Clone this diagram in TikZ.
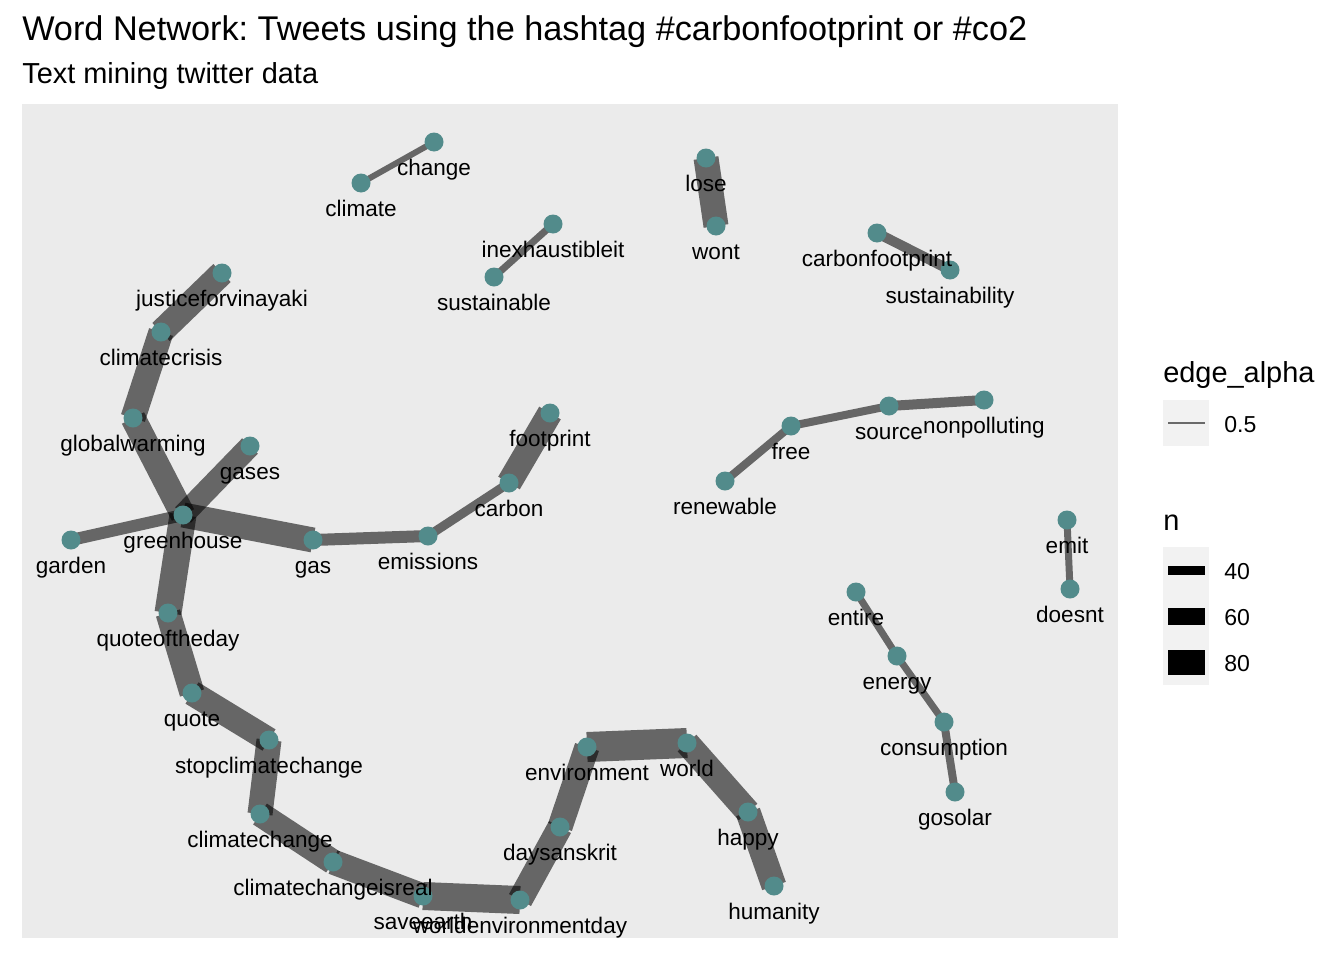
\documentclass[tikz,border=0pt]{standalone}
\usepackage{fontspec}
\setmainfont{Liberation Sans}
\frenchspacing
\pgfdeclarelayer{back}
\pgfdeclarelayer{edges}
\pgfdeclarelayer{front}
\pgfsetlayers{back,edges,main,front}
\definecolor{panel}{HTML}{EBEBEB}
\definecolor{dot}{RGB}{82,139,139}
\definecolor{keybg}{HTML}{F2F2F2}
\definecolor{keyline}{HTML}{6A6A6A}
\begin{document}
\begin{tikzpicture}[x=0.75pt,y=-0.75pt,
  pt/.style={circle,fill=dot,inner sep=0pt,minimum size=14.25pt},
  lbl/.style={font=\fontsize{16.9}{20}\selectfont,inner sep=0pt,anchor=base},
  lnk/.style={draw=black,draw opacity=0.566,line cap=butt,line width=#1*0.75pt},
  ttl/.style={font=\fontsize{25.7}{30}\selectfont,inner sep=0pt,anchor=base west},
  sub/.style={font=\fontsize{21.7}{26}\selectfont,inner sep=0pt,anchor=base west},
  legt/.style={font=\fontsize{17.3}{20}\selectfont,inner sep=0pt,anchor=base west}]
\useasboundingbox (0,0) rectangle (1344,960);
\begin{pgfonlayer}{back}
  \fill[white] (0,0) rectangle (1344,960);
  \fill[panel] (22,104) rectangle (1118,938);
\end{pgfonlayer}

% nodes (points)
\foreach \n/\x/\y in {
  change/434/142, climate/361/183,
  inexhaustibleit/553/224, sustainable/494/277,
  lose/706/158, wont/716/226,
  carbonfootprint/877/233, sustainability/950/270,
  justiceforvinayaki/222/273, climatecrisis/161/332, globalwarming/133/418,
  gases/250/446, greenhouse/183/515, garden/71/540, gas/313/540,
  emissions/428/536, carbon/509/483, footprint/550/413,
  quoteoftheday/168/613, quote/192/693, stopclimatechange/269/740,
  climatechange/260/814, climatechangeisreal/333/862, saveearth/423/896,
  worldenvironmentday/520/900, daysanskrit/560/827, environment/587/747,
  world/687/743, happy/748/812, humanity/774/886,
  free/791/426, source/889/406, nonpolluting/984/400, renewable/725/481,
  emit/1067/520, doesnt/1070/589,
  entire/856/592, energy/897/656, consumption/944/722, gosolar/955/792}
{
  \node[pt] (\n) at (\x,\y) {};
}

% labels
\begin{pgfonlayer}{front}
\foreach \n in {change, climate, inexhaustibleit, sustainable, lose, wont,
  carbonfootprint, sustainability, justiceforvinayaki, climatecrisis,
  globalwarming, gases, greenhouse, garden, gas, emissions, carbon, footprint,
  quoteoftheday, quote, stopclimatechange, climatechange, climatechangeisreal,
  saveearth, worldenvironmentday, daysanskrit, environment, world, happy,
  humanity, free, source, nonpolluting, renewable, emit, doesnt, entire,
  energy, consumption, gosolar}
{
  \path (\n.center) ++(0,33) node[lbl] (t-\n) {\n};
}
\end{pgfonlayer}

% edges
\begin{pgfonlayer}{edges}
\foreach \a/\b/\w in {
  change/climate/6, inexhaustibleit/sustainable/7, lose/wont/25,
  carbonfootprint/sustainability/10,
  justiceforvinayaki/climatecrisis/25, climatecrisis/globalwarming/25,
  globalwarming/greenhouse/25, gases/greenhouse/22, garden/greenhouse/12,
  greenhouse/gas/25, gas/emissions/12, emissions/carbon/9, carbon/footprint/25,
  greenhouse/quoteoftheday/27, quoteoftheday/quote/25, quote/stopclimatechange/25,
  stopclimatechange/climatechange/25, climatechange/climatechangeisreal/25,
  climatechangeisreal/saveearth/25, saveearth/worldenvironmentday/28,
  worldenvironmentday/daysanskrit/25, daysanskrit/environment/25,
  environment/world/30, world/happy/25, happy/humanity/25,
  free/source/8, source/nonpolluting/10, free/renewable/8,
  emit/doesnt/7, entire/energy/7, energy/consumption/7, consumption/gosolar/8}
{
  \draw[lnk=\w] (\a.center) -- (\b.center);
}
\end{pgfonlayer}

% titles
\node[ttl] (title) at (22,40) {Word Network: Tweets using the hashtag \#carbonfootprint or \#co2};
\node[sub] (subtitle) at (22,83) {Text mining twitter data};

% legend
\node[sub] (lega) at (1163,382) {edge\_alpha};
\fill[keybg] (1163,400) rectangle (1209,446);
\coordinate (ka1) at (1168,423);
\coordinate (ka2) at (1205,423);
\draw[keyline,line width=1.5pt] (ka1) -- (ka2);
\node[legt] (la) at (1224,432) {0.5};

\node[sub] (legn) at (1163,530) {n};
\fill[keybg] (1163,547) rectangle (1209,685);
\fill[black] (1168,565.5) rectangle (1205,574.5);
\fill[black] (1168,607.5) rectangle (1205,624.5);
\fill[black] (1168,649.5) rectangle (1205,674.5);
\node[legt] (l40) at (1224,579) {40};
\node[legt] (l60) at (1224,625) {60};
\node[legt] (l80) at (1224,671) {80};
\end{tikzpicture}
\end{document}
